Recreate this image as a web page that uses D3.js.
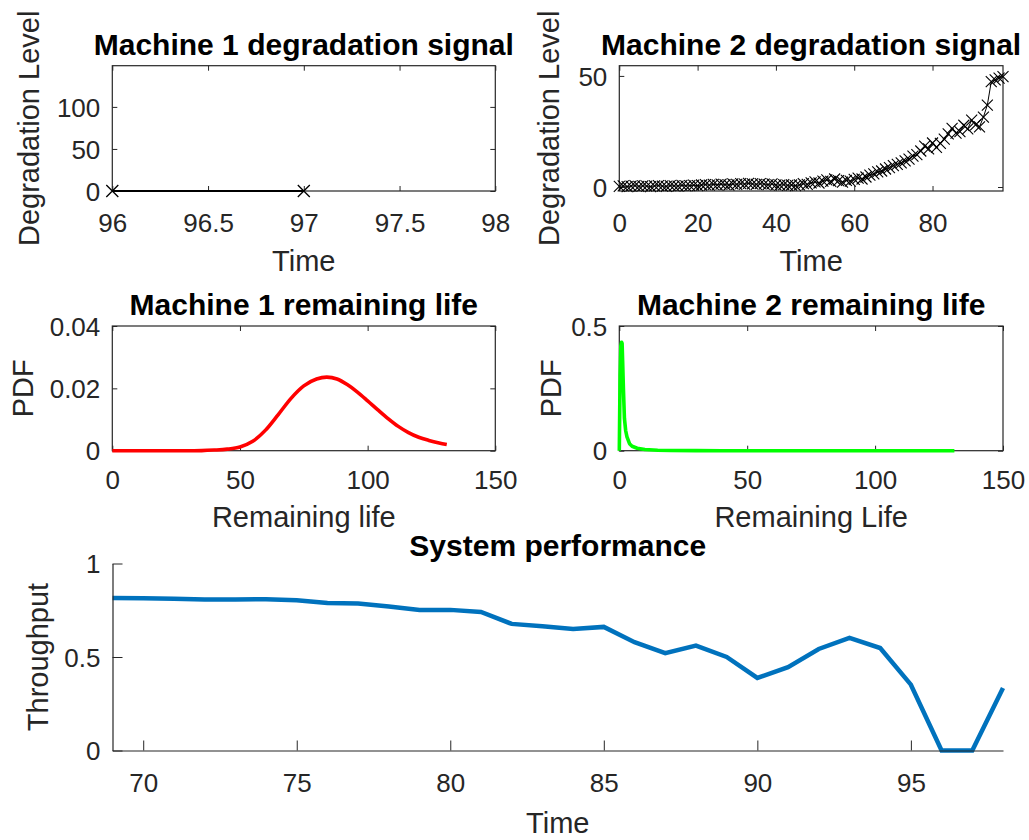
<!DOCTYPE html>
<html>
<head>
<meta charset="utf-8">
<script src="https://cdn.jsdelivr.net/npm/d3@7"></script>
<style>
  html, body { margin: 0; padding: 0; background: #fff; }
  svg { display: block; font-family: "Liberation Sans", Arial, Helvetica, sans-serif; }
</style>
</head>
<body>
<svg id="fig" width="1029" height="840"></svg>
<script>
// ---- Machine 1 degradation signal ----
const m1Time = [96, 97];
const m1Level = [0, 0];

// ---- Machine 2 degradation signal (t = 0..98) ----
const m2Time = d3.range(0, 99);
const m2Level = [
  0.3, 0.5, 0.2, 0.4, 0.6, 0.3, 0.5, 0.4, 0.2, 0.5,
  0.6, 0.4, 0.3, 0.6, 0.5, 0.4, 0.7, 0.5, 0.6, 0.8,
  0.6, 0.9, 1.1, 0.8, 1.2, 1.0, 1.3, 1.1, 0.9, 1.4,
  1.2, 1.5, 1.3, 1.6, 1.4, 1.2, 1.5, 1.3, 1.1, 1.4,
  1.0, 0.8, 1.1, 0.7, 0.9, 0.6, 1.0, 1.5, 1.2, 1.9,
  2.3, 1.8, 2.6, 3.2, 2.5, 3.6, 2.9, 2.2, 3.0, 2.6,
  3.4, 4.0, 3.6, 4.5, 5.3, 5.9, 6.8, 7.2, 8.1, 8.7,
  9.6, 10.2, 10.9, 11.8, 12.5, 13.9, 14.6, 16.2, 18.4, 17.2,
  19.8, 17.8, 19.6, 21.5, 23.9, 26.4, 24.3, 24.9, 27.8, 26.2,
  30.1, 28.0, 27.1, 31.5, 36.9, 47.4, 48.2, 49.0, 49.7
];

// ---- Machine 1 remaining-life PDF ----
const m1Life = [0, 10, 20, 30, 35, 40, 45, 50, 55, 60, 65, 70, 75, 80, 84, 88, 92, 96, 100, 104, 108, 112, 116, 120, 124, 128, 131];
const m1Pdf  = [0, 0, 0, 0, 0.00003, 0.0002, 0.0005, 0.0012, 0.0030, 0.0066, 0.0116, 0.0168, 0.0208, 0.0230, 0.0236, 0.0230, 0.0212, 0.0188, 0.0160, 0.0131, 0.0103, 0.0078, 0.0058, 0.0043, 0.0033, 0.0025, 0.0020];

// ---- Machine 2 remaining-life PDF ----
const m2Life = [0, 0.3, 0.6, 0.9, 1.1, 1.3, 1.6, 2.0, 2.5, 3.0, 4.0, 5.0, 7.0, 10, 15, 20, 30, 40, 60, 80, 100, 120, 131];
const m2Pdf  = [0, 0.30, 0.42, 0.435, 0.43, 0.36, 0.25, 0.13, 0.08, 0.055, 0.028, 0.018, 0.010, 0.005, 0.002, 0.001, 0.0003, 0, 0, 0, 0, 0, 0];

// ---- System throughput ----
const sysTime = d3.range(69, 99);
const sysThroughput = [
  0.816, 0.814, 0.811, 0.807, 0.808, 0.809, 0.804, 0.789, 0.786, 0.770,
  0.752, 0.752, 0.741, 0.677, 0.664, 0.650, 0.661, 0.579, 0.521, 0.561,
  0.500, 0.388, 0.446, 0.543, 0.602, 0.548, 0.352, 0, 0, 0.334
];

const axisColor = "#262626";
const tickFont = 26, labelFont = 29, titleFont = 30;
const svg = d3.select("#fig");

svg.append("rect").attr("width", 1029).attr("height", 840).attr("fill", "#fff");

// Boxed subplot with inward ticks mirrored on all four sides
function boxedPanel(o) {
  const g = svg.append("g");
  const x = d3.scaleLinear().domain(o.xDomain).range([o.left, o.right]);
  const y = d3.scaleLinear().domain(o.yDomain).range([o.bottom, o.top]);
  const tl = 5;

  const styleAxis = sel => {
    sel.select(".domain").remove();
    sel.selectAll(".tick line").attr("stroke", axisColor).attr("stroke-width", 1);
    sel.selectAll("text").attr("fill", axisColor).attr("font-size", tickFont);
  };

  g.append("g").attr("transform", `translate(0,${o.bottom})`)
    .call(d3.axisBottom(x).tickValues(o.xTicks).tickSize(-tl).tickFormat(o.xFormat || d3.format("")))
    .call(styleAxis)
    .call(s => s.selectAll("text").attr("y", o.xLabelOffset).attr("dy", null));
  g.append("g").attr("transform", `translate(0,${o.top})`)
    .call(d3.axisTop(x).tickValues(o.xTicks).tickSize(-tl).tickFormat(""))
    .call(styleAxis);
  g.append("g").attr("transform", `translate(${o.left},0)`)
    .call(d3.axisLeft(y).tickValues(o.yTicks).tickSize(-tl).tickFormat(o.yFormat || d3.format("")))
    .call(styleAxis)
    .call(s => s.selectAll("text").attr("x", -12).attr("dy", "0.35em"));
  g.append("g").attr("transform", `translate(${o.right},0)`)
    .call(d3.axisRight(y).tickValues(o.yTicks).tickSize(-tl).tickFormat(""))
    .call(styleAxis);

  g.append("rect")
    .attr("x", o.left).attr("y", o.top)
    .attr("width", o.right - o.left).attr("height", o.bottom - o.top)
    .attr("fill", "none").attr("stroke", axisColor).attr("stroke-width", 1.2);

  // title
  g.append("text")
    .attr("x", (o.left + o.right) / 2).attr("y", o.titleY)
    .attr("text-anchor", "middle").attr("font-weight", "bold")
    .attr("font-size", titleFont).attr("fill", "#000")
    .text(o.title);
  // x label
  g.append("text")
    .attr("x", (o.left + o.right) / 2).attr("y", o.xLabelY)
    .attr("text-anchor", "middle").attr("font-size", labelFont).attr("fill", axisColor)
    .text(o.xLabel);
  // y label
  g.append("text")
    .attr("transform", `translate(${o.yLabelX},${(o.top + o.bottom) / 2}) rotate(-90)`)
    .attr("text-anchor", "middle").attr("font-size", labelFont).attr("fill", axisColor)
    .text(o.yLabel);

  return { g, x, y };
}

function xMarkers(g, pts, x, y, half, width) {
  g.selectAll(null).data(pts).join("path")
    .attr("d", d => {
      const cx = x(d[0]), cy = y(d[1]);
      return `M${cx - half},${cy - half}L${cx + half},${cy + half}M${cx - half},${cy + half}L${cx + half},${cy - half}`;
    })
    .attr("stroke", "#000").attr("stroke-width", width).attr("fill", "none");
}

const colL = [112.3, 495.3], colR = [619.3, 1003];
const rowTop = [65.7, 191], rowMid = [326, 450.7];

// Machine 1 degradation signal
{
  const p = boxedPanel({
    left: colL[0], right: colL[1], top: rowTop[0], bottom: rowTop[1],
    xDomain: [96, 98], yDomain: [0, 149],
    xTicks: [96, 96.5, 97, 97.5, 98], yTicks: [0, 50, 100],
    xLabelOffset: 40.5,
    title: "Machine 1 degradation signal", titleY: 55,
    xLabel: "Time", xLabelY: 271,
    yLabel: "Degradation Level", yLabelX: 39
  });
  const pts = m1Time.map((t, i) => [t, m1Level[i]]);
  p.g.append("path").datum(pts)
    .attr("d", d3.line().x(d => p.x(d[0])).y(d => p.y(d[1])))
    .attr("fill", "none").attr("stroke", "#000").attr("stroke-width", 2);
  xMarkers(p.g, pts, p.x, p.y, 6, 1.3);
}

// Machine 2 degradation signal
{
  const p = boxedPanel({
    left: colR[0], right: colR[1], top: rowTop[0], bottom: rowTop[1],
    xDomain: [0, 98], yDomain: [-1.8, 54.6],
    xTicks: [0, 20, 40, 60, 80], yTicks: [0, 50],
    xLabelOffset: 40.5,
    title: "Machine 2 degradation signal", titleY: 55,
    xLabel: "Time", xLabelY: 271,
    yLabel: "Degradation Level", yLabelX: 559
  });
  const pts = m2Time.map((t, i) => [t, m2Level[i]]);
  p.g.append("path").datum(pts)
    .attr("d", d3.line().x(d => p.x(d[0])).y(d => p.y(d[1])))
    .attr("fill", "none").attr("stroke", "#000").attr("stroke-width", 1);
  xMarkers(p.g, pts, p.x, p.y, 5.5, 1.1);
}

// Machine 1 remaining life
{
  const p = boxedPanel({
    left: colL[0], right: colL[1], top: rowMid[0], bottom: rowMid[1],
    xDomain: [0, 150], yDomain: [0, 0.04],
    xTicks: [0, 50, 100, 150], yTicks: [0, 0.02, 0.04],
    yFormat: d => d === 0 ? "0" : d3.format(".2f")(d),
    xLabelOffset: 38.7,
    title: "Machine 1 remaining life", titleY: 315,
    xLabel: "Remaining life", xLabelY: 527,
    yLabel: "PDF", yLabelX: 33
  });
  p.g.append("path").datum(m1Life.map((t, i) => [t, m1Pdf[i]]))
    .attr("d", d3.line().curve(d3.curveMonotoneX).x(d => p.x(d[0])).y(d => p.y(d[1])))
    .attr("fill", "none").attr("stroke", "#ff0000").attr("stroke-width", 3.6)
    .attr("stroke-linejoin", "round");
}

// Machine 2 remaining life
{
  const p = boxedPanel({
    left: colR[0], right: colR[1], top: rowMid[0], bottom: rowMid[1],
    xDomain: [0, 150], yDomain: [0, 0.5],
    xTicks: [0, 50, 100, 150], yTicks: [0, 0.5],
    xLabelOffset: 38.7,
    title: "Machine 2 remaining life", titleY: 315,
    xLabel: "Remaining Life", xLabelY: 527,
    yLabel: "PDF", yLabelX: 561
  });
  p.g.append("path").datum(m2Life.map((t, i) => [t, m2Pdf[i]]))
    .attr("d", d3.line().x(d => p.x(d[0])).y(d => p.y(d[1])))
    .attr("fill", "none").attr("stroke", "#00ff00").attr("stroke-width", 3.6)
    .attr("stroke-linejoin", "round");
}

// System performance (open axes, longer inward ticks)
{
  const left = 112.5, right = 1003, top = 563.5, bottom = 750.5;
  const x = d3.scaleLinear().domain([69, 98]).range([left, right]);
  const y = d3.scaleLinear().domain([0, 1]).range([bottom, top]);
  const g = svg.append("g");

  g.append("path").datum(sysTime.map((t, i) => [t, sysThroughput[i]]))
    .attr("d", d3.line().x(d => x(d[0])).y(d => y(d[1])))
    .attr("fill", "none").attr("stroke", "#0072BD").attr("stroke-width", 4.5)
    .attr("stroke-linejoin", "miter");

  const styleAxis = sel => {
    sel.select(".domain").attr("stroke", axisColor).attr("stroke-width", 1.2);
    sel.selectAll(".tick line").attr("stroke", axisColor).attr("stroke-width", 1);
    sel.selectAll("text").attr("fill", axisColor).attr("font-size", tickFont);
  };
  g.append("g").attr("transform", `translate(0,${bottom})`)
    .call(d3.axisBottom(x).tickValues([70, 75, 80, 85, 90, 95]).tickSize(-10).tickSizeOuter(0))
    .call(styleAxis)
    .call(s => s.selectAll("text").attr("y", 41).attr("dy", null));
  g.append("g").attr("transform", `translate(${left},0)`)
    .call(d3.axisLeft(y).tickValues([0, 0.5, 1]).tickSize(-10).tickSizeOuter(0).tickFormat(d => d === 0.5 ? "0.5" : d3.format("d")(d)))
    .call(styleAxis)
    .call(s => s.selectAll("text").attr("x", -12).attr("dy", "0.35em"));

  g.append("text")
    .attr("x", (left + right) / 2).attr("y", 556)
    .attr("text-anchor", "middle").attr("font-weight", "bold")
    .attr("font-size", titleFont).attr("fill", "#000")
    .text("System performance");
  g.append("text")
    .attr("x", (left + right) / 2).attr("y", 833)
    .attr("text-anchor", "middle").attr("font-size", labelFont).attr("fill", axisColor)
    .text("Time");
  g.append("text")
    .attr("transform", `translate(48,${(top + bottom) / 2}) rotate(-90)`)
    .attr("text-anchor", "middle").attr("font-size", labelFont).attr("fill", axisColor)
    .text("Throughput");
}
</script>
</body>
</html>
